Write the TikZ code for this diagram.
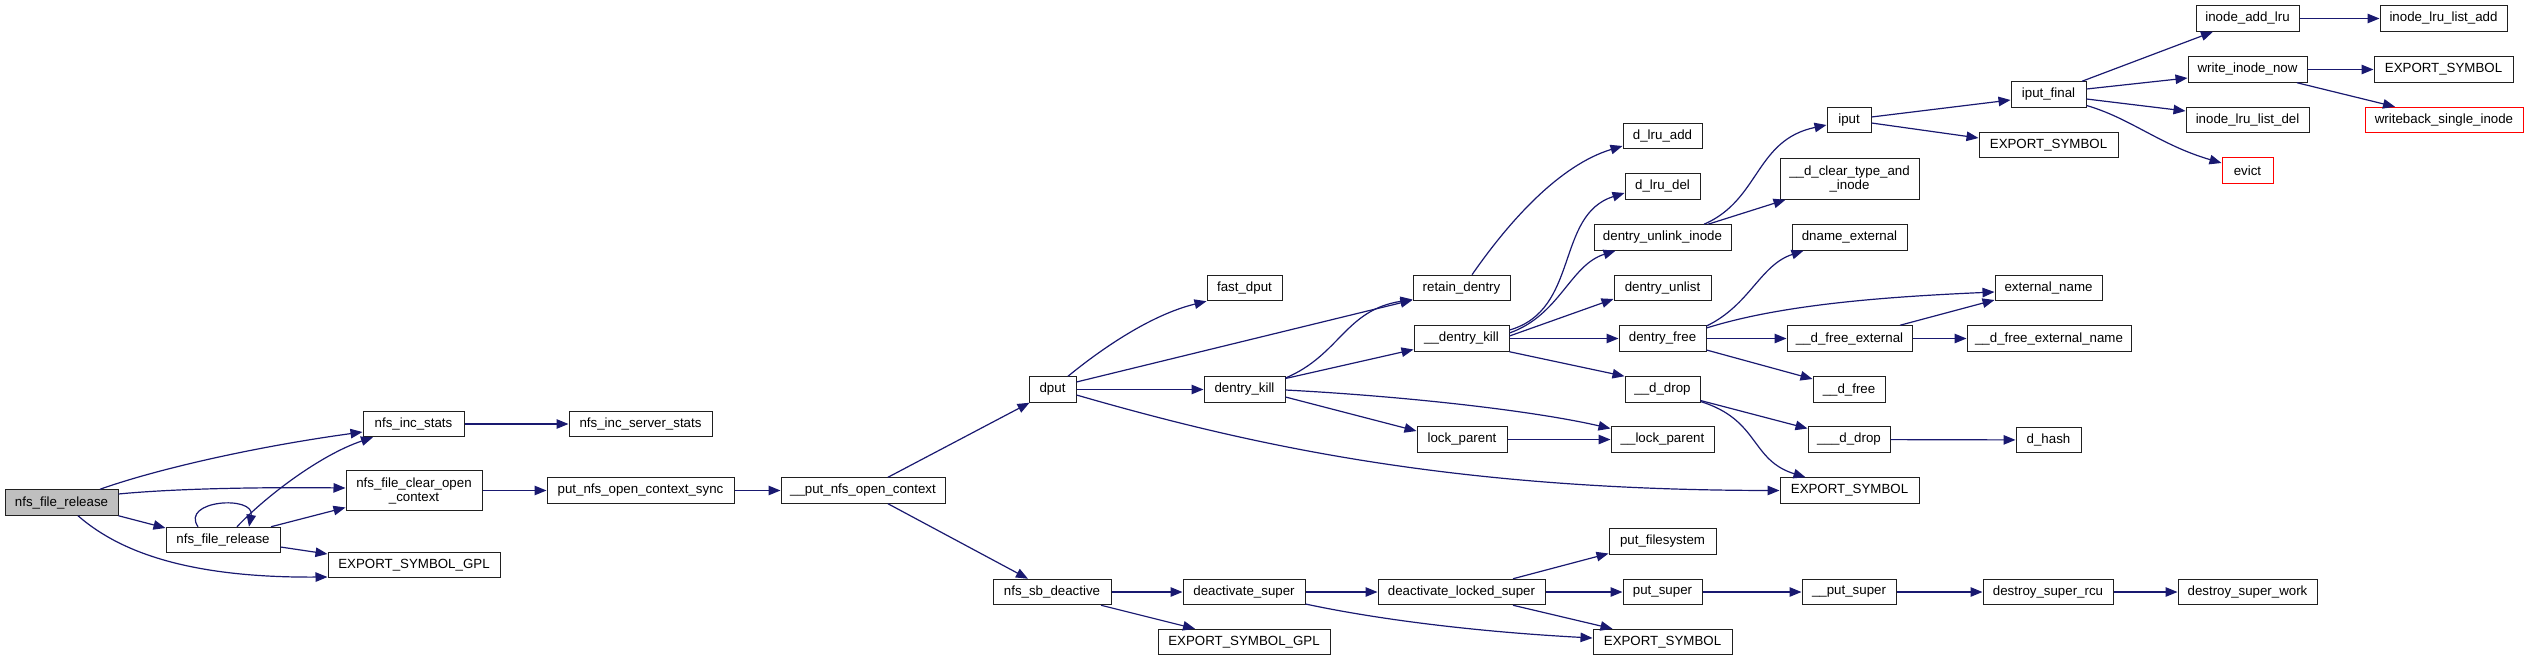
\documentclass[tikz,border=0pt]{standalone}
\usepackage{fontspec}
\setmainfont{Liberation Sans}
\usetikzlibrary{arrows.meta}
\definecolor{edgeblue}{HTML}{191970}
\definecolor{rootgray}{HTML}{BFBFBF}
\definecolor{boxline}{HTML}{202020}
\begin{document}
\begin{tikzpicture}[x=1pt,y=-1pt,
  fn/.style={draw=boxline,line width=1pt,fill=white,inner sep=0pt,minimum height=25.5pt,font=\fontsize{13.3}{14}\selectfont,align=center},
  fn2/.style={fn,minimum height=40.5pt},
  rootfn/.style={fn,fill=rootgray},
  redfn/.style={fn,draw=red},
  call/.style={draw=edgeblue,line width=1.2pt,-{Triangle[length=12pt,width=9.5pt]}}]
\useasboundingbox (0,0) rectangle (2528,661);
% nodes
\node[rootfn,minimum width=113pt] (root) at (61.5,502.5) {nfs\_file\_release};
\node[fn,minimum width=101pt] (incst) at (413.5,424) {nfs\_inc\_stats};
\node[fn2,minimum width=136pt] (clearctx) at (414,490.5) {nfs\_file\_clear\_open\\\_context};
\node[fn,minimum width=114pt] (rel2) at (223,540) {nfs\_file\_release};
\node[fn,minimum width=172pt] (gpl1) at (414,565) {EXPORT\_SYMBOL\_GPL};
\node[fn,minimum width=143pt] (srvst) at (640.5,424) {nfs\_inc\_server\_stats};
\node[fn,minimum width=187pt] (ctxsync) at (640.5,490.5) {put\_nfs\_open\_context\_sync};
\node[fn,minimum width=164pt] (putctx) at (863,490.5) {\_\_put\_nfs\_open\_context};
\node[fn,minimum width=47pt] (dput) at (1052.5,389.5) {dput};
\node[fn,minimum width=118pt] (sbdeact) at (1052,592) {nfs\_sb\_deactive};
\node[fn,minimum width=75pt] (fastdput) at (1244.5,288) {fast\_dput};
\node[fn,minimum width=81pt] (dkill) at (1244.5,389.5) {dentry\_kill};
\node[fn,minimum width=122pt] (deactsup) at (1244,592) {deactivate\_super};
\node[fn,minimum width=172pt] (gpl2) at (1244,642) {EXPORT\_SYMBOL\_GPL};
\node[fn,minimum width=97pt] (retain) at (1461.5,288) {retain\_dentry};
\node[fn,minimum width=95pt] (ddkill) at (1461.5,338.5) {\_\_dentry\_kill};
\node[fn,minimum width=90pt] (lockp) at (1462,439.5) {lock\_parent};
\node[fn,minimum width=167pt] (dls) at (1461.5,592) {deactivate\_locked\_super};
\node[fn,minimum width=79pt] (dlruadd) at (1662.5,136) {d\_lru\_add};
\node[fn,minimum width=75pt] (dlrudel) at (1662.5,186.5) {d\_lru\_del};
\node[fn,minimum width=137pt] (unlink) at (1662.5,237.5) {dentry\_unlink\_inode};
\node[fn,minimum width=97pt] (unlist) at (1662.5,288) {dentry\_unlist};
\node[fn,minimum width=87pt] (dfree) at (1662.5,338.5) {dentry\_free};
\node[fn,minimum width=75pt] (ddrop) at (1662.5,389.5) {\_\_d\_drop};
\node[fn,minimum width=103pt] (lockp2) at (1662.5,439.5) {\_\_lock\_parent};
\node[fn,minimum width=107pt] (putfs) at (1662.5,541.5) {put\_filesystem};
\node[fn,minimum width=79pt] (putsup) at (1662.5,592) {put\_super};
\node[fn,minimum width=139pt] (exbot) at (1662.5,642) {EXPORT\_SYMBOL};
\node[fn,minimum width=44pt] (iput) at (1849,120) {iput};
\node[fn2,minimum width=139pt] (dclear) at (1849.5,179) {\_\_d\_clear\_type\_and\\\_inode};
\node[fn,minimum width=115pt] (dnameext) at (1849.5,237.5) {dname\_external};
\node[fn,minimum width=125pt] (dfreeext) at (1849.5,338.5) {\_\_d\_free\_external};
\node[fn,minimum width=72pt] (dfree2) at (1849,389.5) {\_\_d\_free};
\node[fn,minimum width=82pt] (d3drop) at (1849,439.5) {\_\_\_d\_drop};
\node[fn,minimum width=139pt] (exmid) at (1849.5,490.5) {EXPORT\_SYMBOL};
\node[fn,minimum width=94pt] (putsup2) at (1849,592) {\_\_put\_super};
\node[fn,minimum width=75pt] (iputfinal) at (2048.5,94.5) {iput\_final};
\node[fn,minimum width=139pt] (exiput) at (2048.5,145) {EXPORT\_SYMBOL};
\node[fn,minimum width=107pt] (extname) at (2048.5,288) {external\_name};
\node[fn,minimum width=164pt] (dfreeextname) at (2049,338.5) {\_\_d\_free\_external\_name};
\node[fn,minimum width=65pt] (dhash) at (2048.5,440) {d\_hash};
\node[fn,minimum width=130pt] (dsrcu) at (2048,592) {destroy\_super\_rcu};
\node[fn,minimum width=103pt] (addlru) at (2247.5,18.5) {inode\_add\_lru};
\node[fn,minimum width=119pt] (winow) at (2247.5,69.5) {write\_inode\_now};
\node[fn,minimum width=123pt] (lrudel) at (2247.5,120) {inode\_lru\_list\_del};
\node[redfn,minimum width=51pt] (evict) at (2247.5,170.5) {evict};
\node[fn,minimum width=139pt] (dswork) at (2247.5,592) {destroy\_super\_work};
\node[fn,minimum width=127pt] (lruadd) at (2443.5,18.5) {inode\_lru\_list\_add};
\node[fn,minimum width=139pt] (exwin) at (2443.5,69.5) {EXPORT\_SYMBOL};
\node[redfn,minimum width=158pt] (wbsi) at (2444,120) {writeback\_single\_inode};
% edges
\draw[call] ([xshift=38.5pt]root.north) .. controls (160,468) and (260,446) .. ([yshift=-8pt]incst.west);
\draw[call] ([yshift=8.5pt]root.east) .. controls (170,489) and (250,487) .. ([yshift=2.5pt]clearctx.west);
\draw[call] (root.south east) -- ([yshift=12pt]rel2.west);
\draw[call] ([xshift=16.5pt]root.south) .. controls (115,548) and (180,578) .. ([yshift=-12pt]gpl1.west);
\draw[call] ([xshift=-25pt]rel2.north) .. controls (180,500) and (255,495) .. ([xshift=26pt]rel2.north);
\draw[call] ([xshift=14pt]rel2.north) .. controls (265,497) and (320,455) .. ([xshift=-40.5pt]incst.south);
\draw[call] ([xshift=48pt]rel2.north) -- ([yshift=-17pt]clearctx.west);
\draw[call] ([yshift=-7pt]rel2.east) -- ([yshift=11pt]gpl1.west);
\draw[call] (incst) -- (srvst);
\draw[call] (clearctx) -- (ctxsync);
\draw[call] (ctxsync) -- (putctx);
\draw[call] ([xshift=25pt]putctx.north) -- ([xshift=1pt]dput.south west);
\draw[call] ([xshift=25pt]putctx.south) -- ([xshift=-24pt]sbdeact.north);
\draw[call] ([xshift=15.5pt]dput.north) .. controls (1100,350) and (1150,315) .. (fastdput.south west);
\draw[call] ([yshift=7.5pt]dput.east) -- ([yshift=-12pt]retain.west);
\draw[call] (dput) -- (dkill);
\draw[call] ([yshift=-5.5pt]dput.east) .. controls (1250,445) and (1450,490) .. (exmid.west);
\draw[call] ([yshift=11.5pt]dkill.east) .. controls (1340,355) and (1345,310) .. ([yshift=-11.5pt]retain.west);
\draw[call] ([yshift=11pt]dkill.east) -- ([yshift=-11pt]ddkill.west);
\draw[call] ([yshift=-7.5pt]dkill.east) -- ([yshift=8.5pt]lockp.west);
\draw[call] ([yshift=-0.5pt]dkill.east) .. controls (1400,396) and (1530,410) .. ([yshift=11pt]lockp2.west);
\draw[call] (lockp) -- (lockp2);
\draw[call] ([xshift=10.5pt]retain.north) .. controls (1510,220) and (1560,165) .. ([yshift=-10pt]dlruadd.west);
\draw[call] ([yshift=8.5pt]ddkill.east) .. controls (1580,310) and (1555,215) .. ([yshift=-6.5pt]dlrudel.west);
\draw[call] ([yshift=5.5pt]ddkill.east) .. controls (1560,315) and (1570,265) .. ([xshift=22pt]unlink.south west);
\draw[call] ([yshift=2.5pt]ddkill.east) -- ([yshift=-11pt]unlist.west);
\draw[call] (ddkill) -- (dfree);
\draw[call] (ddkill.south east) -- (ddrop.north west);
\draw[call] ([xshift=41.5pt]unlink.north) .. controls (1760,200) and (1755,140) .. ([yshift=-5pt]iput.west);
\draw[call] ([xshift=45.5pt]unlink.north) -- ([xshift=6pt]dclear.south west);
\draw[call] ([yshift=3pt]iput.east) -- ([yshift=-5.5pt]iputfinal.west);
\draw[call] ([yshift=-3pt]iput.east) -- ([yshift=7pt]exiput.west);
\draw[call] ([xshift=33.5pt]iputfinal.north) -- ([xshift=-34.5pt]addlru.south);
\draw[call] ([yshift=5.5pt]iputfinal.east) -- ([yshift=-8.5pt]winow.west);
\draw[call] ([yshift=-4.5pt]iputfinal.east) -- ([yshift=9pt]lrudel.west);
\draw[call] ([yshift=-11pt]iputfinal.east) .. controls (2130,118) and (2160,145) .. ([yshift=7.5pt]evict.west);
\draw[call] (addlru) -- (lruadd);
\draw[call] (winow) -- (exwin);
\draw[call] ([xshift=49.5pt]winow.south) -- ([xshift=-49pt]wbsi.north);
\draw[call] ([yshift=12.5pt]dfree.east) .. controls (1750,305) and (1760,265) .. ([xshift=12pt]dnameext.south west);
\draw[call] ([yshift=10.5pt]dfree.east) .. controls (1780,305) and (1880,297) .. ([yshift=-4pt]extname.west);
\draw[call] (dfree) -- (dfreeext);
\draw[call] ([yshift=-11.5pt]dfree.east) -- ([yshift=10.5pt]dfree2.west);
\draw[call] ([xshift=50.5pt]dfreeext.north) -- ([yshift=-12pt]extname.west);
\draw[call] (dfreeext) -- (dfreeextname);
\draw[call] ([yshift=-11pt]ddrop.east) -- ([yshift=11pt]d3drop.west);
\draw[call] ([yshift=-12pt]ddrop.east) .. controls (1760,420) and (1750,460) .. ([xshift=26pt]exmid.north west);
\draw[call] (d3drop) -- (dhash);
\draw[call] (sbdeact) -- (deactsup);
\draw[call] ([xshift=49pt]sbdeact.south) -- ([xshift=-49pt]gpl2.north);
\draw[call] (deactsup) -- (dls);
\draw[call] ([yshift=-12pt]deactsup.east) .. controls (1380,620) and (1480,632) .. ([yshift=4pt]exbot.west);
\draw[call] ([xshift=51.5pt]dls.north) -- ([yshift=-12pt]putfs.west);
\draw[call] (dls) -- (putsup);
\draw[call] ([xshift=51.5pt]dls.south) -- ([xshift=20pt]exbot.north west);
\draw[call] (putsup) -- (putsup2);
\draw[call] (putsup2) -- (dsrcu);
\draw[call] (dsrcu) -- (dswork);
\end{tikzpicture}
\end{document}
